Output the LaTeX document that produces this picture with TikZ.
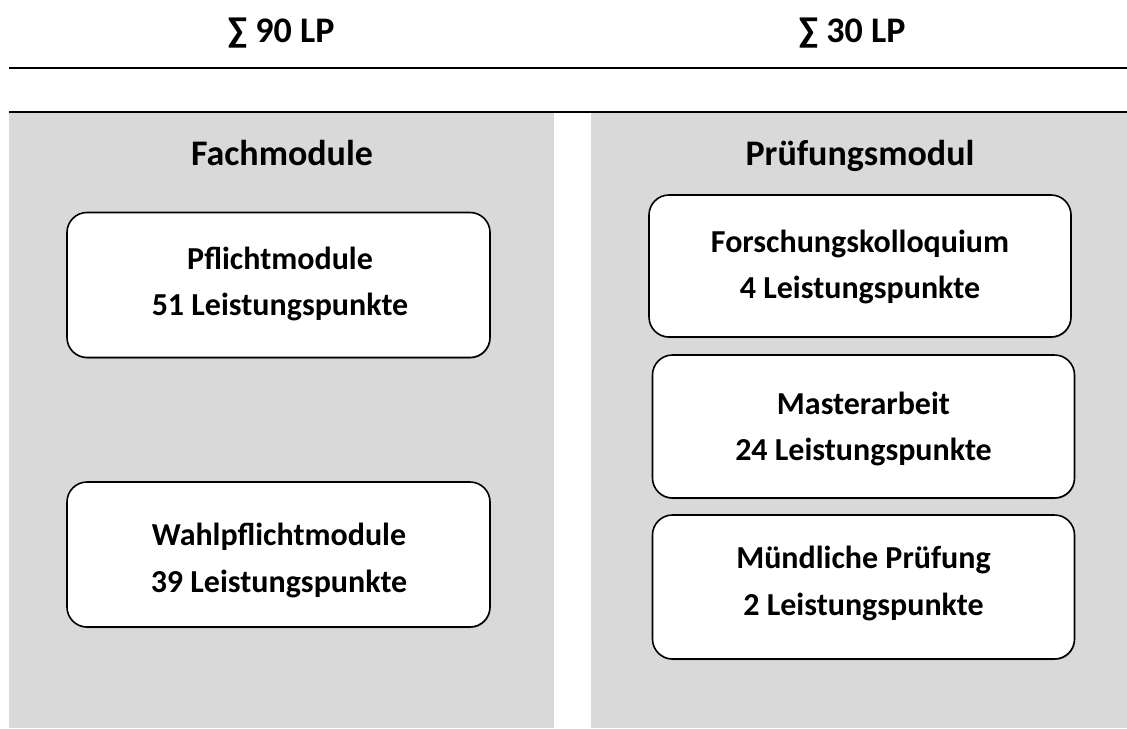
\documentclass[tikz,border=0pt]{standalone}
\usepackage{fontspec}
\setmainfont{Carlito}
\usetikzlibrary{shadows}
\definecolor{panelgray}{HTML}{D9D9D9}
\newcommand{\pxl}[1]{#1*0.75pt}
\begin{document}
\begin{tikzpicture}[x=0.75pt,y=-0.75pt,
  panel/.style={fill=panelgray, draw=none, inner sep=0, anchor=north west},
  rule/.style={line width=1.6pt},
  hdr/.style={font=\fontsize{27}{32}\selectfont\bfseries, anchor=base, inner sep=0},
  ttl/.style={font=\fontsize{27}{32}\selectfont\bfseries, anchor=base, inner sep=0},
  modbox/.style={draw, fill=white, line width=1.2pt, rounded corners=15pt, inner sep=0,
    general shadow={fill=black!45, shadow xshift=0.5pt, shadow yshift=-0.8pt}},
  boxtxt/.style={font=\fontsize{24}{29}\selectfont\bfseries, anchor=base, inner sep=0}]
\useasboundingbox (0,0) rectangle (1127,728);
% header
\node[hdr] (h1) at (281,42) {∑ 90 LP};
\node[hdr] (h2) at (852,42) {∑ 30 LP};
\coordinate (r1a) at (9,68);
\coordinate (r1b) at (1127,68);
\draw[rule] (r1a) -- (r1b);
% panels
\node[panel, minimum width=\pxl{545}, minimum height=\pxl{616}] (lp) at (9,112) {};
\node[panel, minimum width=\pxl{536}, minimum height=\pxl{616}] (rp) at (591,112) {};
\coordinate (r2a) at (9,112);
\coordinate (r2b) at (1127,112);
\draw[rule] (r2a) -- (r2b);
% titles
\node[ttl] (t1) at (282,165) {Fachmodule};
\node[ttl] (t2) at (860,165) {Prüfungsmodul};
% boxes
\node[modbox, minimum width=\pxl{423}, minimum height=\pxl{145}] (pf) at (278.5,285) {};
\node[boxtxt] (pf1) at (280,269) {Pflichtmodule};
\node[boxtxt] (pf2) at (280,315) {51 Leistungspunkte};

\node[modbox, minimum width=\pxl{423}, minimum height=\pxl{145}] (wp) at (278.5,554.5) {};
\node[boxtxt] (wp1) at (279,545) {Wahlpflichtmodule};
\node[boxtxt] (wp2) at (279,592) {39 Leistungspunkte};

\node[modbox, minimum width=\pxl{422}, minimum height=\pxl{142}] (fk) at (860,266) {};
\node[boxtxt] (fk1) at (860,252) {Forschungskolloquium};
\node[boxtxt] (fk2) at (860,298) {4 Leistungspunkte};

\node[modbox, minimum width=\pxl{422}, minimum height=\pxl{143}] (ma) at (863.5,426.5) {};
\node[boxtxt] (ma1) at (863.5,414) {Masterarbeit};
\node[boxtxt] (ma2) at (863.5,460) {24 Leistungspunkte};

\node[modbox, minimum width=\pxl{422}, minimum height=\pxl{144}] (mp) at (863.5,587) {};
\node[boxtxt] (mp1) at (863.5,568) {Mündliche Prüfung};
\node[boxtxt] (mp2) at (863.5,615) {2 Leistungspunkte};
\end{tikzpicture}
\end{document}
